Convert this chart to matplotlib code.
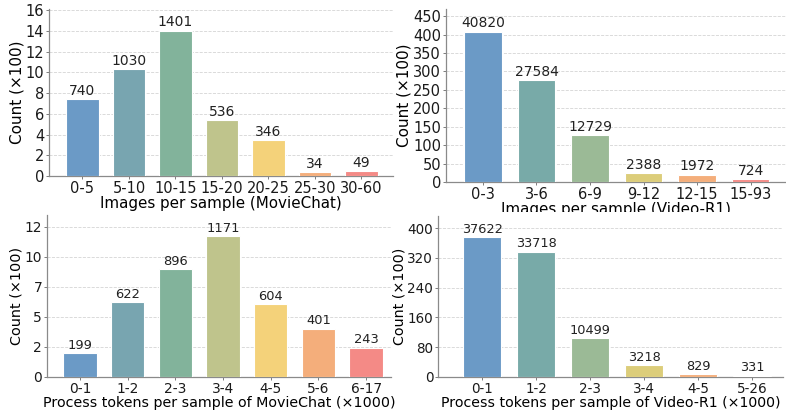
import numpy as np
import matplotlib
matplotlib.use("Agg")
import matplotlib.pyplot as plt
from matplotlib.ticker import FuncFormatter
from matplotlib.transforms import Bbox, TransformedBbox

# data
mc_img_bins = ['0-5', '5-10', '10-15', '15-20', '20-25', '25-30', '30-60']
mc_img_counts = [740, 1030, 1401, 536, 346, 34, 49]

vr_img_bins = ['0-3', '3-6', '6-9', '9-12', '12-15', '15-93']
vr_img_counts = [40820, 27584, 12729, 2388, 1972, 724]

mc_tok_bins = ['0-1', '1-2', '2-3', '3-4', '4-5', '5-6', '6-17']
mc_tok_counts = [199, 622, 896, 1171, 604, 401, 243]

vr_tok_bins = ['0-1', '1-2', '2-3', '3-4', '4-5', '5-26']
vr_tok_counts = [37622, 33718, 10499, 3218, 829, 331]

colors7 = ['#6b9ac6', '#78a5b0', '#82b39b', '#bfc48c', '#f4d27a', '#f4ae7b', '#f48a86']
colors6 = ['#6b9ac6', '#78aaa8', '#9bba96', '#dccd7a', '#f4ae7b', '#f48a86']

W, H = 786, 412
fig = plt.figure(figsize=(W / 100, H / 100), dpi=100)


def px_axes(l, t, r, b):
    return fig.add_axes([l / W, 1 - b / H, (r - l) / W, (b - t) / H])


def panel(ax, bins, counts, colors, xlabel, xlim, ticks, intfmt=False, s=1.0):
    x = np.arange(len(bins))
    h = np.array(counts) / 100.0
    ax.bar(x, h, width=0.7, color=colors, edgecolor='white', linewidth=0.8, zorder=3)
    for xi, hi, c in zip(x, h, counts):
        ax.annotate(str(c), (xi, hi), xytext=(0, 1.0), textcoords='offset points',
                    ha='center', va='bottom', fontsize=10 * s, color='#222222')
    ax.set_xticks(x)
    ax.set_xticklabels(bins, fontsize=10.5 * s)
    ax.set_yticks(ticks)
    ax.tick_params(axis='y', labelsize=10.5 * s)
    if intfmt:
        ax.yaxis.set_major_formatter(FuncFormatter(lambda v, p: f'{int(v)}'))
    ax.set_xlim(*xlim)
    ax.set_ylim(0, h.max() * 1.15)
    ax.set_xlabel(xlabel, fontsize=10.9 * s, labelpad=0)
    ax.set_ylabel('Count (×100)', fontsize=11 * s, labelpad=1)
    ax.grid(axis='y', linestyle='--', color='#d5d5d5', linewidth=0.6, zorder=0)
    ax.spines['top'].set_visible(False)
    ax.spines['right'].set_visible(False)
    for sp in ['left', 'bottom']:
        ax.spines[sp].set_color('#8a8a8a')
        ax.spines[sp].set_linewidth(0.9)
    ax.tick_params(length=2.5, width=0.6, color='#666666', pad=1, labelcolor='#1a1a1a')


ax1 = px_axes(49, 9, 393, 176)
panel(ax1, mc_img_bins, mc_img_counts, colors7, 'Images per sample (MovieChat)',
      (-0.72, 6.68), np.arange(0, 17, 2))

ax2 = px_axes(446, 9, 786, 182)
panel(ax2, vr_img_bins, vr_img_counts, colors6, 'Images per sample (Video-R1)',
      (-0.69, 5.66), np.arange(0, 451, 50))

ax3 = px_axes(47, 215, 391, 377)
panel(ax3, mc_tok_bins, mc_tok_counts, colors7,
      'Process tokens per sample of MovieChat (×1000)',
      (-0.69, 6.52), np.arange(0, 13, 2.5), intfmt=True, s=0.94)

ax4 = px_axes(438, 216, 783, 377)
panel(ax4, vr_tok_bins, vr_tok_counts, colors6,
      'Process tokens per sample of Video-R1 (×1000)',
      (-0.82, 5.57), np.arange(0, 401, 80), s=0.93)

# the top-right x label is cut by the lower panel in the original
lab = ax2.xaxis.label
lab.set_clip_box(TransformedBbox(Bbox([[0.5, 1 - 212 / H], [1, 1]]), fig.transFigure))
lab.set_clip_on(True)

fig.savefig('out.png', dpi=100, facecolor='white')
